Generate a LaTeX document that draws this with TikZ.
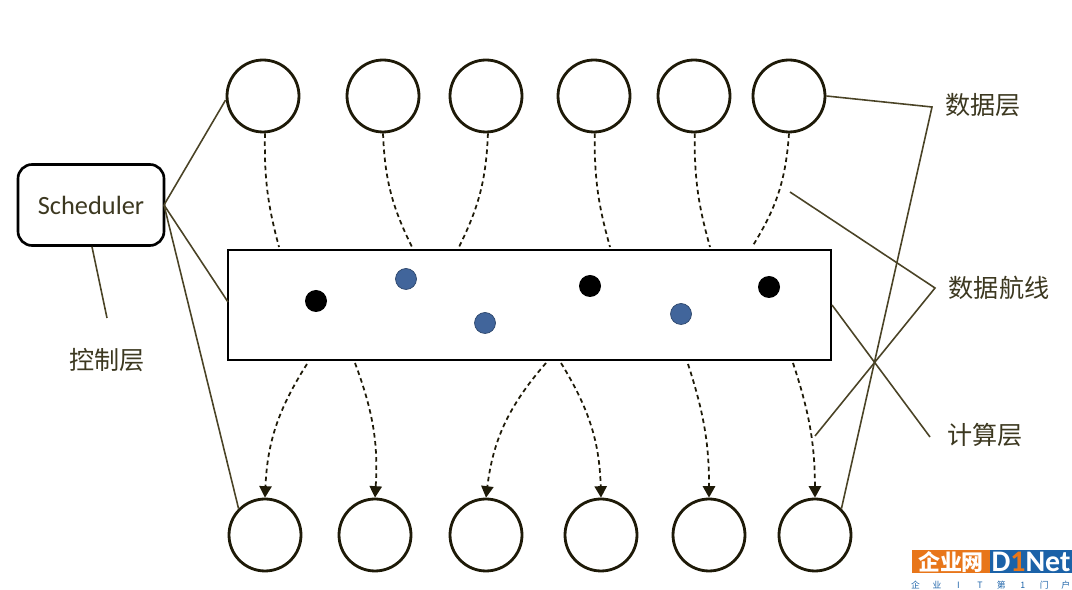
\documentclass[tikz,border=0pt]{standalone}
\usepackage{fontspec}
\setmainfont{Carlito}
\newfontfamily\cjk{Noto Sans CJK SC}
\usetikzlibrary{arrows.meta,positioning,calc}
\definecolor{inkc}{HTML}{1E1A08}
\definecolor{linec}{HTML}{4A4326}
\definecolor{txtc}{HTML}{3C3820}
\definecolor{dotblue}{HTML}{41659B}
\definecolor{logoorg}{HTML}{E8761A}
\definecolor{logoblu}{HTML}{1B62A8}
\newcommand{\logochar}[1]{\makebox[12.2pt][c]{#1}}

\begin{document}
\begin{tikzpicture}[
x=0.02cm, y=-0.02cm,
res/.style={draw=inkc, circle, line width=1.6pt, minimum size=1.44cm, inner sep=0pt},
sched/.style={draw=black, rectangle, rounded corners=8pt, line width=1.5pt, minimum width=2.92cm,
              minimum height=1.62cm, inner sep=2pt, align=center, font=\fontsize{15}{17}\selectfont, text=txtc},
comp/.style={draw=black, rectangle, line width=1.5pt, minimum width=12.06cm, minimum height=2.2cm, inner sep=0pt},
bdot/.style={fill=black, circle, minimum size=0.44cm, inner sep=0pt},
pdot/.style={fill=dotblue, draw=dotblue!70!black, circle, minimum size=0.42cm, inner sep=0pt},
lnk/.style={line width=0.9pt, draw=linec},
flow/.style={line width=1pt, draw=inkc, dash pattern=on 2.6pt off 2pt},
flowa/.style={flow, -{Stealth[inset=0pt,length=6.5pt,width=7pt]}},
lbl/.style={font=\cjk\fontsize{14.3}{17}\selectfont, text=txtc, inner sep=0pt},
]
\useasboundingbox (0,0) rectangle (1072,590);
\node[res] (D1) at (263,96) {};
\node[res] (D2) at (383,96) {};
\node[res] (D3) at (486,96) {};
\node[res] (D4) at (594,96) {};
\node[res] (D5) at (694,96) {};
\node[res] (D6) at (789,96) {};
\node[res] (O1) at (265,535) {};
\node[res] (O2) at (375,535) {};
\node[res] (O3) at (486,535) {};
\node[res] (O4) at (601,535) {};
\node[res] (O5) at (709,535) {};
\node[res] (O6) at (815,535) {};
\node[sched] (S) at (91,205) {Scheduler};
\node[comp] (C) at (529.5,305) {};
\node[bdot] (B1) at (316,301) {};
\node[bdot] (B2) at (590,286) {};
\node[bdot] (B3) at (769,287) {};
\node[pdot] (P1) at (406,279) {};
\node[pdot] (P2) at (485,323) {};
\node[pdot] (P3) at (681,314) {};
\node[lbl] (LC) at (107,360) {控制层};
\node[lbl] (LD) at (983,105) {数据层};
\node[lbl] (LH) at (999,288) {数据航线};
\node[lbl] (LJ) at (985,435) {计算层};
% free ends
\coordinate (Ci1) at (279,247);
\coordinate (Ci2) at (412,247);
\coordinate (Ci3) at (459,247);
\coordinate (Ci4) at (610,247);
\coordinate (Ci5) at (710,247);
\coordinate (Ci6) at (752,247);
\coordinate (Co1) at (307,364);
\coordinate (Co2) at (355,363);
\coordinate (Co3) at (546,363);
\coordinate (Co4) at (561,363);
\coordinate (Co5) at (688,364);
\coordinate (Co6) at (793,363);
\coordinate (CL) at (228,302);
\coordinate (SL) at (107,318);
\coordinate (SE) at (164,205);
\coordinate (DJ) at (932,107);
\coordinate (HJ) at (935,288);
\coordinate (HA) at (790,192);
\coordinate (HB) at (815,436);
\coordinate (JJ) at (930,437);
\coordinate (CR) at (832,305);
% data to compute
\draw[flow] (D1.-87) to[bend right=8] (Ci1);
\draw[flow] (D2.south) to[bend right=12] (Ci2);
\draw[flow] (D3.-87) to[bend left=12] (Ci3);
\draw[flow] (D4.-89) to[bend right=8] (Ci4);
\draw[flow] (D5.-89) to[bend right=8] (Ci5);
\draw[flow] (D6.south) to[bend left=14] (Ci6);
% compute to output
\draw[flowa] (Co1) to[bend right=15] (O1.north);
\draw[flowa] (Co2) to[bend left=12] (O2.north);
\draw[flowa] (Co3) to[bend right=17] (O3.north);
\draw[flowa] (Co4) to[bend left=15] (O4.north);
\draw[flowa] (Co5) to[bend left=9] (O5.north);
\draw[flowa] (Co6) to[bend left=9] (O6.north);
% scheduler
\draw[lnk] (SE) -- (D1.west |- 0,100);
\draw[lnk] (SE) -- (CL);
\draw[lnk] (SE) -- (O1.north west);
\draw[lnk] (S.south -| 92,0) -- (SL);
% label leaders
\draw[lnk] (D6.east) -- (DJ) -- (O6.north east);
\draw[lnk] (HA) -- (HJ) -- (HB);
\draw[lnk] (CR) -- (JJ);
% logo
\node[fill=logoorg, text=white, minimum width=1.56cm, minimum height=0.46cm, inner sep=0pt, font=\cjk\bfseries\fontsize{12.5}{12}\selectfont] (LG1) at (951,562) {企业网};
\node[fill=logoblu, text=white, minimum width=1.64cm, minimum height=0.46cm, inner sep=0pt, font=\bfseries\fontsize{17}{15}\selectfont] (LG2) at (1031,562) {D\textcolor{logoorg}{1}Net};
\node[inner sep=0pt, text=logoblu, font=\cjk\fontsize{5}{6}\selectfont] (LG3) at (990.7,585) {\makebox[8.6pt][l]{企}\logochar{业}\logochar{I}\logochar{T}\logochar{第}\logochar{1}\logochar{门}\hspace{3.7pt}户};
\end{tikzpicture}
\end{document}
